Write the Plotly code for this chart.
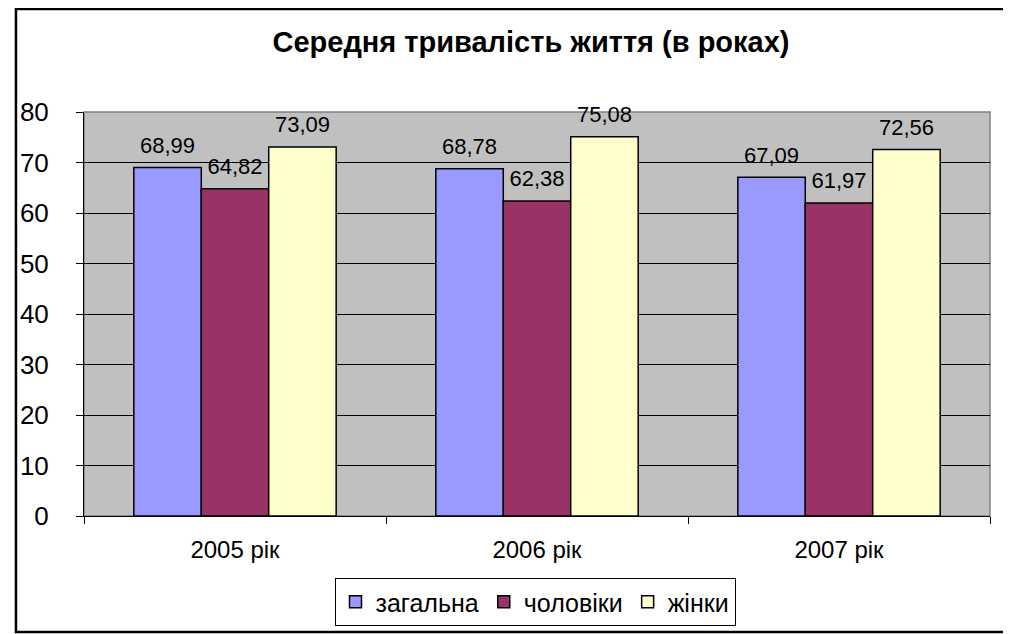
import plotly.graph_objects as go

# data
years = ["2005 рік", "2006 рік", "2007 рік"]
total = [68.99, 68.78, 67.09]
men = [64.82, 62.38, 61.97]
women = [73.09, 75.08, 72.56]

series = [("загальна", total, "#9999FF"),
          ("чоловіки", men, "#993366"),
          ("жінки", women, "#FFFFCC")]

font_name = "Liberation Sans, Arial, sans-serif"

# page has an 8px body margin, so the figure is 8px smaller than the window
W, H = 1003, 626
ml, mr, mt, mb = 70, 21, 104, 118
pw, ph = W - ml - mr, H - mt - mb

fig = go.Figure()
for i, (name, vals, color) in enumerate(series):
    fig.add_trace(go.Bar(
        x=years, y=vals, name=name, offsetgroup=str(i),
        marker=dict(color=color, line=dict(color="black", width=1.5)),
        hoverinfo="x+y",
    ))
    # value labels, placed a bit above the bars
    fig.add_trace(go.Scatter(
        x=years, y=vals, offsetgroup=str(i), mode="markers+text",
        marker=dict(size=13, opacity=0),
        text=[f"{v:.2f}".replace(".", ",") for v in vals],
        textposition="top center", cliponaxis=False, showlegend=False,
        hoverinfo="skip",
        textfont=dict(size=22, color="black", family=font_name),
    ))

fig.update_layout(
    width=W, height=H,
    margin=dict(l=ml, r=mr, t=mt, b=mb),
    paper_bgcolor="white", plot_bgcolor="#C0C0C0",
    barmode="group", bargap=0.33, bargroupgap=0,
    scattermode="group", scattergap=0.33,
    font=dict(family=font_name, color="black", size=20),
    title=dict(text="<b>Середня тривалість життя (в роках)</b>",
               x=523 / W, xanchor="center", y=1 - 34 / H, yanchor="middle",
               font=dict(size=29, color="black")),
    legend=dict(orientation="h", x=527 / W, xanchor="center",
                y=1 - 594 / H, yanchor="middle", xref="container", yref="container",
                bordercolor="black", borderwidth=1, bgcolor="white",
                font=dict(size=25), itemwidth=30, traceorder="normal"),
    showlegend=True,
)
fig.update_yaxes(range=[0, 80], dtick=10, showgrid=True, gridcolor="black", gridwidth=1,
                 ticks="outside", ticklen=7, tickcolor="black", showline=True,
                 linecolor="black", linewidth=1, zeroline=False,
                 tickfont=dict(size=26), ticklabelstandoff=22)
fig.update_xaxes(tickson="boundaries", ticks="outside", ticklen=7, tickcolor="black",
                 showline=True, linecolor="black", linewidth=1,
                 tickfont=dict(size=24), ticklabelstandoff=12)

# grey plot-area border (top/right) and outer chart frame
fig.add_shape(type="rect", xref="paper", yref="paper", x0=0, x1=1, y0=0, y1=1,
              line=dict(color="#808080", width=1.5), layer="below")
fig.add_shape(type="rect", xref="paper", yref="paper",
              x0=(1.5 - ml) / pw, x1=(1000 - ml) / pw,
              y0=(mt + ph - 624) / ph, y1=(mt + ph - 1) / ph,
              line=dict(color="black", width=2.5))

fig.write_html("out.html")
